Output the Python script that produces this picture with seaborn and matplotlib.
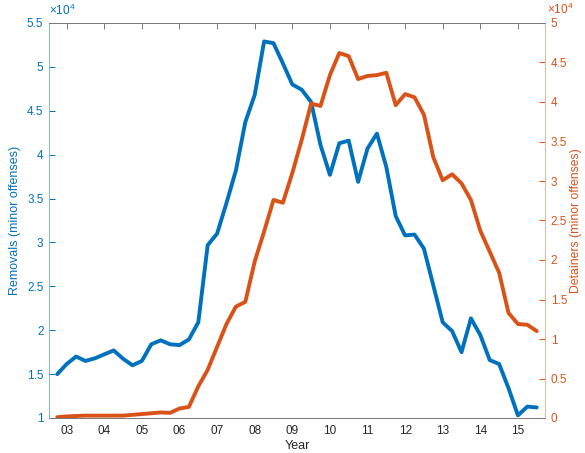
import numpy as np
import pandas as pd
import matplotlib
matplotlib.use("Agg")
import matplotlib.pyplot as plt
from matplotlib.ticker import FuncFormatter, FixedLocator
import seaborn as sns

# ---- data (quarterly, values in counts) ----
start_year = 2002.75
removals = [1.50, 1.615, 1.70, 1.65, 1.68, 1.725, 1.77, 1.675, 1.60, 1.65,
            1.84, 1.885, 1.84, 1.83, 1.895, 2.09, 2.97, 3.10, 3.45, 3.82,
            4.37, 4.68, 5.29, 5.27, 5.04, 4.80, 4.74, 4.60, 4.11, 3.77,
            4.13, 4.16, 3.69, 4.07, 4.24, 3.86, 3.30, 3.08, 3.09, 2.93,
            2.51, 2.09, 1.99, 1.75, 2.135, 1.945, 1.66, 1.615, 1.34, 1.03,
            1.13, 1.12]
detainers = [0.01, 0.02, 0.025, 0.03, 0.03, 0.03, 0.03, 0.03, 0.04, 0.05,
             0.06, 0.07, 0.065, 0.12, 0.14, 0.40, 0.61, 0.90, 1.19, 1.41,
             1.47, 1.98, 2.36, 2.76, 2.725, 3.10, 3.52, 3.98, 3.95, 4.34,
             4.62, 4.58, 4.29, 4.33, 4.34, 4.37, 3.96, 4.10, 4.06, 3.84,
             3.30, 3.01, 3.085, 2.97, 2.76, 2.37, 2.105, 1.84, 1.33, 1.19,
             1.18, 1.10]
removals = [v * 1e4 for v in removals]
detainers = [v * 1e4 for v in detainers]
year_ticks = list(range(2003, 2016))
year_labels = ["03", "04", "05", "06", "07", "08", "09", "10", "11", "12", "13", "14", "15"]
left_ticks = [1.0, 1.5, 2.0, 2.5, 3.0, 3.5, 4.0, 4.5, 5.0, 5.5]
right_ticks = [0.0, 0.5, 1.0, 1.5, 2.0, 2.5, 3.0, 3.5, 4.0, 4.5, 5.0]

quarters = start_year + 0.25 * np.arange(len(removals))
df = pd.DataFrame({"year": quarters, "removals": removals, "detainers": detainers})

BLUE = "#0072BD"
ORANGE = "#D95319"

sns.set_style("white")
plt.rcParams["font.family"] = ["Liberation Sans", "DejaVu Sans"]
plt.rcParams["mathtext.fontset"] = "custom"
plt.rcParams["mathtext.rm"] = "Liberation Sans"
plt.rcParams["mathtext.it"] = "Liberation Sans"

fig = plt.figure(figsize=(5.85, 4.53), dpi=100)
ax = fig.add_axes([49 / 585, 35 / 453, (545 - 49) / 585, (418 - 23) / 453])
ax2 = ax.twinx()

sns.lineplot(data=df, x="year", y="removals", ax=ax, color=BLUE, lw=2.8)
sns.lineplot(data=df, x="year", y="detainers", ax=ax2, color=ORANGE, lw=2.8)

ax.set_xlim(2002.53, 2015.72)
ax.set_ylim(1e4, 5.5e4)
ax2.set_ylim(0, 5e4)

fmt = FuncFormatter(lambda v, p: "%g" % round(v / 1e4, 3))
ax.yaxis.set_major_locator(FixedLocator([t * 1e4 for t in left_ticks]))
ax2.yaxis.set_major_locator(FixedLocator([t * 1e4 for t in right_ticks]))
ax.yaxis.set_major_formatter(fmt)
ax2.yaxis.set_major_formatter(fmt)
ax.set_xticks(year_ticks)
ax.set_xticklabels(year_labels)

for a in (ax, ax2):
    for s in a.spines.values():
        s.set_linewidth(0.7)
        s.set_visible(True)
    a.spines["top"].set_color("#7a7a7a")
    a.spines["bottom"].set_color("#7a7a7a")
    a.spines["left"].set_color("#80b8de")
    a.spines["right"].set_color("#f0b49a")
    a.grid(False)

ax.tick_params(axis="x", direction="in", length=4, width=0.7, color="#7a7a7a",
               labelsize=8.5, labelcolor="#262626", top=True, pad=5)
ax.tick_params(axis="y", direction="in", length=4, width=0.7, color=BLUE,
               labelsize=8.5, labelcolor=BLUE, pad=4)
ax2.tick_params(axis="y", direction="in", length=4, width=0.7, color=ORANGE,
                labelsize=8.5, labelcolor=ORANGE, pad=4)

ax.set_xlabel("Year", fontsize=9, color="#262626", labelpad=2)
ax.set_ylabel("Removals (minor offenses)", fontsize=9, color=BLUE, labelpad=4)
ax2.set_ylabel("Detainers (minor offenses)", fontsize=8.8, color=ORANGE, labelpad=2)

ax.text(0.0, 1.012, r"$\times 10^{4}$", transform=ax.transAxes, color=BLUE,
        fontsize=8.5, ha="left", va="bottom")
ax2.text(1.005, 1.016, r"$\times 10^{4}$", transform=ax2.transAxes, color=ORANGE,
         fontsize=8.5, ha="left", va="bottom")

fig.savefig("out.png", dpi=100)
